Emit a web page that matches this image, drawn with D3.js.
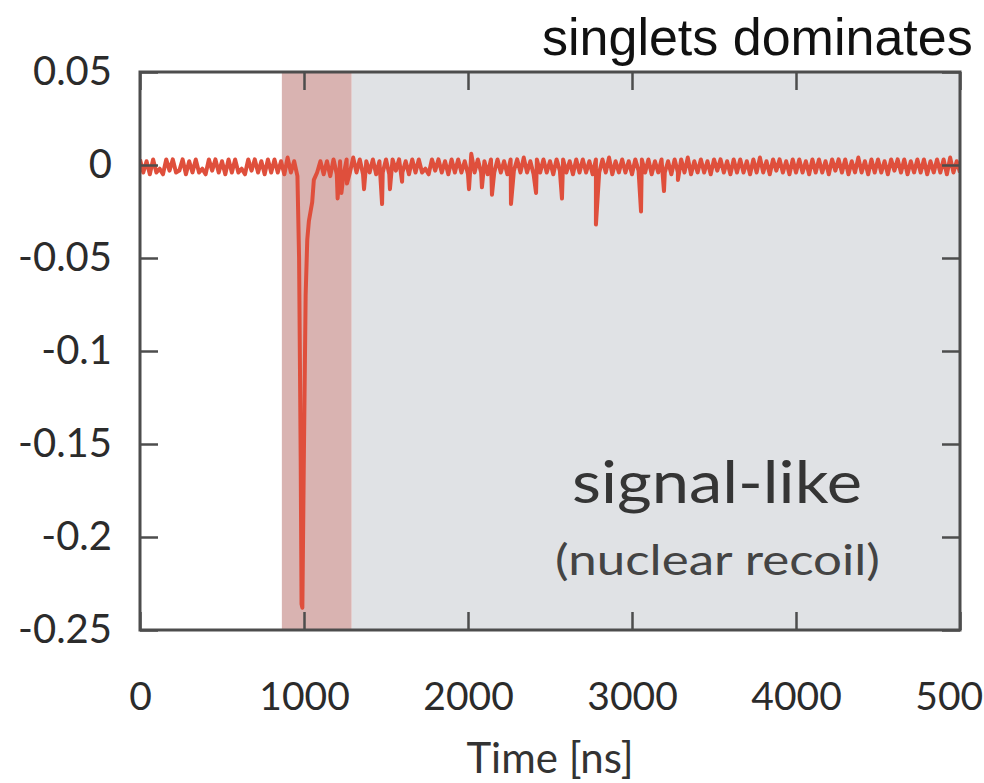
<!DOCTYPE html>
<html>
<head>
<meta charset="utf-8">
<script src="https://cdn.jsdelivr.net/npm/d3@7"></script>
<style>
  html, body { margin: 0; padding: 0; background: #ffffff; }
  svg { display: block; }
</style>
</head>
<body>
<svg id="chart" width="984" height="783"></svg>
<script>
// ---------------- data ----------------
const xTickValues = [0, 1000, 2000, 3000, 4000, 5000];
const xTickLabels = ["0", "1000", "2000", "3000", "4000", "5000"];
const yTickValues = [0.05, 0, -0.05, -0.1, -0.15, -0.2, -0.25];
const yTickLabels = ["0.05", "0", "-0.05", "-0.1", "-0.15", "-0.2", "-0.25"];

const xTitle = "Time [ns]";
const topNote = "singlets dominates";
const noteMain = "signal-like";
const noteSub = "(nuclear recoil)";

// integration windows [ns]
const promptWindow = [865, 1290];
const lateWindow = [1290, 5000];

const sampleStep = 20;
const waveform = [
  0.003, -0.004, 0.002, -0.005, 0.003, -0.004, -0.002, -0.005, 0.003, -0.003,
  0.003, -0.004, -0.003, 0.003, -0.005, 0.002, -0.004, 0.003, -0.004, -0.002,
  -0.005, 0.003, -0.003, 0.003, -0.004, 0.002, -0.005, 0.003, -0.004, 0.003,
  -0.004, -0.002, -0.005, 0.003, -0.003, 0.003, -0.004, 0.002, -0.005, 0.003,
  -0.004, 0.003, -0.004, 0.002, -0.005, 0.004, -0.004, 0.002, -0.006, -0.160,
  -0.150, -0.040, -0.025, -0.008, -0.004, 0.002, -0.005, 0.002, -0.006, 0.003,
  -0.005, 0.002, -0.006, 0.003, -0.004, 0.004, -0.004, 0.003, -0.005, 0.002,
  -0.004, 0.003, -0.005, 0.002, -0.004, 0.003, -0.005, 0.003, -0.003, 0.003,
  -0.004, 0.002, -0.005, 0.003, -0.004, 0.003, -0.004, -0.002, -0.005, 0.003,
  -0.003, 0.003, -0.004, 0.002, -0.005, 0.003, -0.004, 0.003, -0.004, 0.002,
  -0.005, 0.006, -0.004, 0.003, -0.004, 0.002, -0.005, 0.003, -0.004, 0.003,
  -0.004, 0.002, -0.005, 0.003, -0.003, 0.003, -0.004, 0.004, -0.004, 0.002,
  -0.005, 0.003, -0.004, 0.003, -0.004, 0.002, -0.005, 0.003, -0.003, 0.003,
  -0.004, 0.002, -0.005, 0.003, -0.004, 0.003, -0.004, 0.002, -0.005, 0.003,
  -0.004, 0.003, -0.004, 0.004, -0.005, 0.002, -0.004, 0.003, -0.004, 0.002,
  -0.005, 0.003, -0.003, 0.003, -0.004, 0.003, -0.005, 0.002, -0.004, 0.003,
  -0.004, 0.002, -0.005, 0.003, -0.004, 0.003, -0.004, 0.004, -0.005, 0.002,
  -0.004, 0.003, -0.004, 0.002, -0.005, 0.003, -0.003, 0.003, -0.004, 0.002,
  -0.005, 0.003, -0.004, 0.003, -0.004, 0.002, -0.005, 0.003, -0.004, 0.004,
  -0.004, 0.002, -0.005, 0.003, -0.003, 0.003, -0.004, 0.002, -0.005, 0.003,
  -0.004, 0.003, -0.004, 0.002, -0.005, 0.003, -0.004, 0.003, -0.004, 0.002,
  -0.005, 0.003, -0.003, 0.003, -0.004, 0.003, -0.005, 0.002, -0.004, 0.004,
  -0.004, 0.002, -0.005, 0.003, -0.004, 0.003, -0.004, 0.002, -0.005, 0.003,
  -0.003, 0.003, -0.004, 0.003, -0.005, 0.002, -0.004, 0.003, -0.004, 0.003,
  -0.005, 0.002, -0.004, 0.003, -0.004, 0.003, -0.005, 0.004, -0.004, 0.002,
  -0.004
];

// narrow features between the 20 ns samples: main pulse and single photoelectrons
const featureTimes = [970, 985, 990, 1010, 1030, 1050, 1205, 1228, 1262,
  1366, 1476, 1524, 1598, 2006, 2085, 2146, 2262, 2415, 2573, 2780, 3055, 3195, 3280];
const featureValues = [-0.05, -0.236, -0.238, -0.07, -0.03, -0.02, -0.018, -0.015, -0.010,
  -0.013, -0.021, -0.013, -0.009, -0.013, -0.012, -0.016, -0.021, -0.015, -0.018, -0.032, -0.025, -0.014, -0.008];

// ---------------- chart ----------------
const svg = d3.select("#chart");
const L = 140, R = 960, T = 72, B = 630;
const x = d3.scaleLinear().domain([0, 5000]).range([L, R]);
const y = d3.scaleLinear().domain([-0.25, 0.05]).range([B, T]);

const points = waveform.map((v, i) => ({ t: i * sampleStep, v: v }))
  .concat(featureTimes.map((t, i) => ({ t: t, v: featureValues[i] })))
  .sort((a, b) => a.t - b.t);

svg.append("defs").append("clipPath").attr("id", "plotclip")
  .append("rect").attr("x", L).attr("y", T).attr("width", R - L).attr("height", B - T);

// windows
svg.append("rect")
  .attr("x", x(lateWindow[0])).attr("y", T)
  .attr("width", x(lateWindow[1]) - x(lateWindow[0])).attr("height", B - T)
  .attr("fill", "#e0e2e5");
svg.append("rect")
  .attr("x", x(promptWindow[0])).attr("y", T)
  .attr("width", x(promptWindow[1]) - x(promptWindow[0])).attr("height", B - T)
  .attr("fill", "#d9b3b1");

// annotation
svg.append("text")
  .attr("x", 572).attr("y", 503)
  .attr("font-family", "Lato, 'Open Sans', sans-serif")
  .attr("font-size", 59).attr("fill", "#353535")
  .attr("textLength", 290).attr("lengthAdjust", "spacingAndGlyphs")
  .text(noteMain);
svg.append("text")
  .attr("x", 555).attr("y", 575)
  .attr("font-family", "Lato, 'Open Sans', sans-serif")
  .attr("font-size", 42).attr("fill", "#444444")
  .attr("textLength", 325).attr("lengthAdjust", "spacingAndGlyphs")
  .text(noteSub);

// waveform
const line = d3.line().x(d => x(d.t)).y(d => y(d.v));
svg.append("path")
  .datum(points)
  .attr("clip-path", "url(#plotclip)")
  .attr("fill", "none")
  .attr("stroke", "#df4f3c")
  .attr("stroke-width", 4)
  .attr("stroke-linejoin", "round")
  .attr("d", line);

// axes
const axisColor = "#4d4d4d";
const tickLen = 18;
const fontFam = "Lato, 'Open Sans', sans-serif";

const gL = svg.append("g").attr("transform", `translate(${L},0)`)
  .call(d3.axisLeft(y).tickValues(yTickValues).tickSize(-tickLen).tickPadding(28)
    .tickFormat((d, i) => yTickLabels[i]));
const gR = svg.append("g").attr("transform", `translate(${R},0)`)
  .call(d3.axisRight(y).tickValues(yTickValues).tickSize(-tickLen).tickFormat(""));
const gB = svg.append("g").attr("transform", `translate(0,${B})`)
  .call(d3.axisBottom(x).tickValues(xTickValues).tickSize(-tickLen).tickPadding(52)
    .tickFormat((d, i) => xTickLabels[i]));
const gT = svg.append("g").attr("transform", `translate(0,${T})`)
  .call(d3.axisTop(x).tickValues(xTickValues).tickSize(-tickLen).tickFormat(""));

[gL, gR, gB, gT].forEach(g => {
  g.select(".domain").remove();
  g.selectAll(".tick line").attr("stroke", axisColor).attr("stroke-width", 2.5);
  g.selectAll(".tick text").attr("font-family", fontFam).attr("font-size", 40).attr("fill", "#2b2b2b");
});
gB.selectAll(".tick text").attr("font-size", 39);

// frame
svg.append("rect")
  .attr("x", L).attr("y", T).attr("width", R - L).attr("height", B - T)
  .attr("fill", "none").attr("stroke", axisColor).attr("stroke-width", 3);

// axis title
svg.append("text")
  .attr("x", (L + R) / 2).attr("y", 773)
  .attr("text-anchor", "middle")
  .attr("font-family", fontFam).attr("font-size", 42).attr("fill", "#333333")
  .text(xTitle);

// top note
svg.append("text")
  .attr("x", 542).attr("y", 55)
  .attr("font-family", "'Liberation Sans', Arial, sans-serif")
  .attr("font-size", 52).attr("fill", "#111111")
  .text(topNote);
</script>
</body>
</html>
